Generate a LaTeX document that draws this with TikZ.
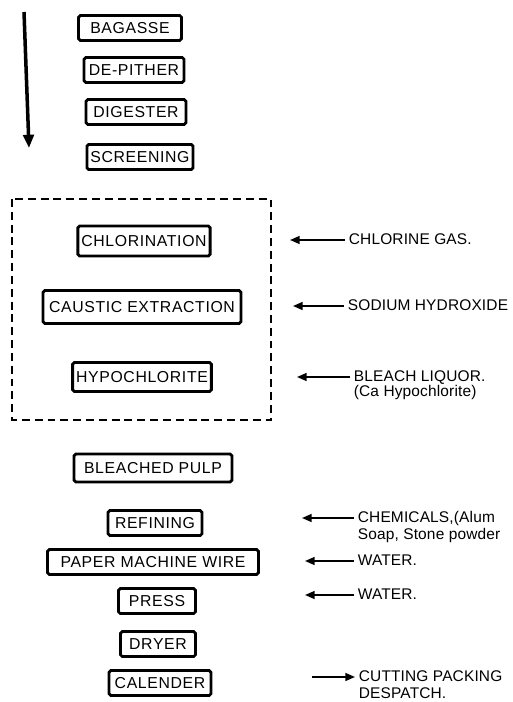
\documentclass[tikz,border=0pt]{standalone}
\usepackage{fontspec}
\setmainfont{Liberation Sans}[LetterSpace=4]
\newfontfamily\lblfont{Liberation Sans}[LetterSpace=1]
\usepackage{tikz}
\usetikzlibrary{positioning,arrows.meta}

\begin{document}
\begin{tikzpicture}[x=0.02cm,y=-0.02cm,
  every node/.style={font=\fontsize{9}{10}\selectfont},
  box/.style={draw,line width=1.6pt,rounded corners=1pt,inner xsep=2pt,
    inner ysep=0pt,text height=6.5pt,text depth=0pt,minimum height=0.5cm},
  lbl/.style={anchor=west,inner xsep=2pt,inner ysep=0pt,
    font=\lblfont\fontsize{8.8}{10}\selectfont,text height=6.5pt,text depth=1.8pt},
  arr/.style={-{Triangle[length=5.5pt,width=4.5pt]},line width=1pt}]
  \useasboundingbox (0,0) rectangle (512,702);
  % process line
  \node[box,minimum width=2.06cm] (bag) at (130,28) {BAGASSE};
  \node[box,minimum width=2cm] (pith) at (134,70) {DE-PITHER};
  \node[box,minimum width=2cm] (dig) at (136,112) {DIGESTER};
  \node[box,minimum width=2cm] (scr) at (140,157) {SCREENING};
  \node[box,minimum width=2.6cm,minimum height=0.6cm] (chl) at (144,241) {CHLORINATION};
  \node[box,minimum width=3.96cm,minimum height=0.66cm] (caus) at (142,307) {CAUSTIC EXTRACTION};
  \node[box,minimum width=2.76cm,minimum height=0.58cm] (hypo) at (142,377) {HYPOCHLORITE};
  \node[box,minimum width=3.16cm,minimum height=0.56cm] (pulp) at (153,468) {BLEACHED PULP};
  \node[box,minimum width=1.88cm] (ref) at (155,523) {REFINING};
  \node[box,minimum width=4.22cm] (wire) at (153,562) {PAPER MACHINE WIRE};
  \node[box,minimum width=1.54cm] (press) at (157,601) {PRESS};
  \node[box,minimum width=1.5cm] (dry) at (158,644) {DRYER};
  \node[box,minimum width=2.04cm] (cal) at (160,683) {CALENDER};
  % flow direction
  \coordinate (ftop) at (24,12);
  \coordinate (fbot) at (29,148);
  \draw[-{Triangle[length=7.5pt,width=6pt]},line width=2pt] (ftop) -- (fbot);
  % bleaching stages
  \draw[line width=1.1pt,dash pattern=on 4.5pt off 2.8pt] (12,199) rectangle (271,420);
  % inputs
  \node[lbl] (gas) at (345,240) {CHLORINE GAS.};
  \coordinate (gast) at (290,240);
  \draw[arr] (gas) -- (gast);
  \node[lbl] (naoh) at (344,306) {SODIUM HYDROXIDE};
  \coordinate (naoht) at (293,306);
  \draw[arr] (naoh) -- (naoht);
  \node[lbl] (liq) at (350,377) {BLEACH LIQUOR.};
  \node[lbl,below=0pt of liq.south west,anchor=north west] (liq2) {(Ca Hypochlorite)};
  \coordinate (liqt) at (297,377);
  \draw[arr] (liq) -- (liqt);
  \node[lbl] (chem) at (354,518) {CHEMICALS,(Alum};
  \node[lbl,below=1pt of chem.south west,anchor=north west] (chem2) {Soap, Stone powder};
  \coordinate (chemt) at (302,518);
  \draw[arr] (chem) -- (chemt);
  \node[lbl] (wat) at (354,561) {WATER.};
  \coordinate (watt) at (305,561);
  \draw[arr] (wat) -- (watt);
  \node[lbl] (wat2) at (354,595) {WATER.};
  \coordinate (wat2t) at (305,595);
  \draw[arr] (wat2) -- (wat2t);
  % output
  \node[lbl] (cut) at (355,677) {CUTTING PACKING};
  \node[lbl,below=1pt of cut.south west,anchor=north west] (cut2) {DESPATCH.};
  \coordinate (cutt) at (312,677);
  \draw[arr] (cutt) -- (cut);
\end{tikzpicture}
\end{document}
